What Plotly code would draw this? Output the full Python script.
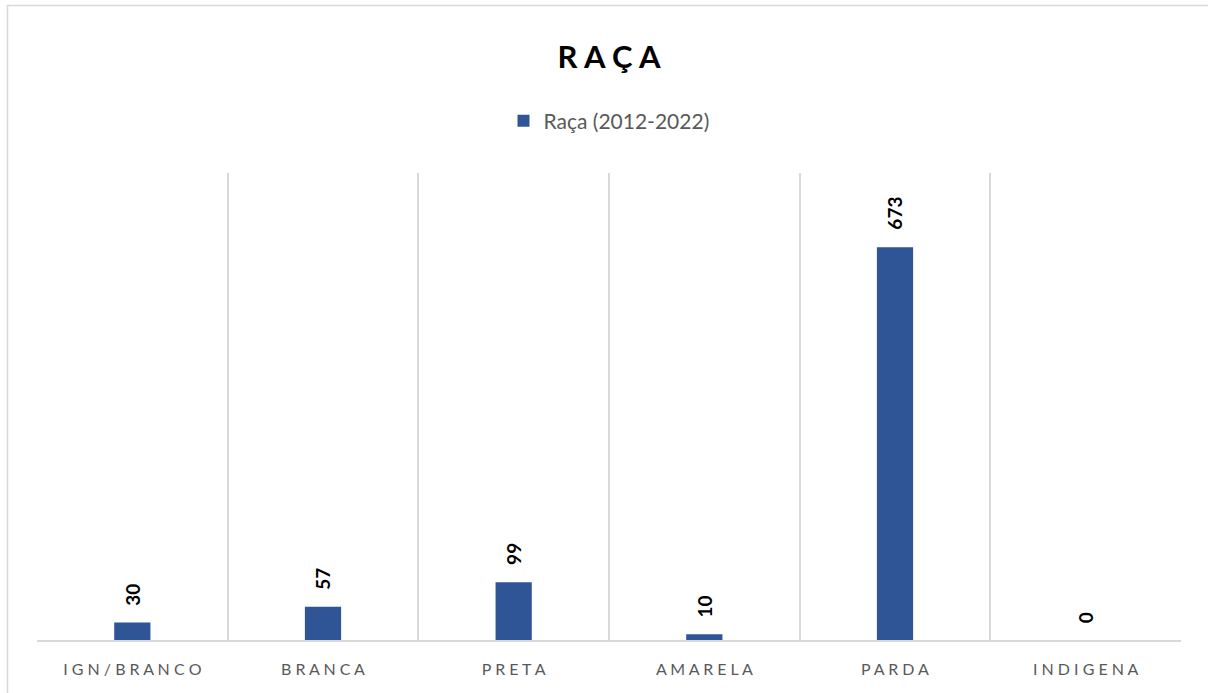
import plotly.graph_objects as go

categories = ["IGN/BRANCO", "BRANCA", "PRETA", "AMARELA", "PARDA", "INDIGENA"]
values = [30, 57, 99, 10, 673, 0]
series_name = "Raça (2012-2022)"
title_text = "RAÇA"

def spaced(s):
    return " ".join(list(s))

tick_text = [spaced(c) for c in categories]

W, H = 1208, 693
L, R, T, B = 37, 1181, 173, 640

fig = go.Figure()
fig.add_trace(go.Bar(
    x=categories,
    y=values,
    name=series_name,
    marker=dict(color="#2F5597", line=dict(width=0)),
    width=0.19,
    hoverinfo="skip",
))

for c, v in zip(categories, values):
    fig.add_annotation(
        x=c, y=v, xref="x", yref="y",
        text="<b>" + str(v) + "</b>",
        showarrow=False,
        textangle=-90,
        xanchor="center", yanchor="bottom",
        yshift=15,
        font=dict(family="Lato", size=19, color="#000000"),
    )

def px_to_paper_x(px):
    return (px - L) / (R - L)

def px_to_paper_y(py):
    return (B - py) / (B - T)

fig.update_layout(
    width=W, height=H,
    margin=dict(l=L, r=W - R, t=T, b=H - B, pad=0),
    paper_bgcolor="white",
    plot_bgcolor="white",
    font=dict(family="Lato", color="#595959"),
    title=dict(
        text="<b>" + spaced(title_text) + "</b>",
        x=0.5, xanchor="center", xref="paper",
        y=1 - 57 / H, yanchor="middle", yref="container",
        font=dict(family="Lato", size=31, color="#000000", weight=900),
    ),
    showlegend=True,
    legend=dict(
        orientation="h",
        x=0.5, xanchor="center",
        y=px_to_paper_y(121), yanchor="middle",
        font=dict(family="Lato", size=21, color="#595959"),
        itemsizing="constant",
        itemwidth=30,
    ),
    xaxis=dict(
        type="category",
        tickmode="array",
        tickvals=categories,
        ticktext=tick_text,
        tickson="boundaries",
        showgrid=True,
        gridcolor="#D9D9D9",
        gridwidth=1.8,
        showline=True,
        linecolor="#D9D9D9",
        linewidth=2,
        ticks="",
        ticklabelstandoff=14,
        tickfont=dict(family="Lato", size=16, color="#595959"),
        range=[-0.5, 5.5],
        fixedrange=True,
    ),
    yaxis=dict(
        range=[0, 800],
        showgrid=False,
        showticklabels=False,
        zeroline=False,
        showline=False,
        ticks="",
        fixedrange=True,
    ),
    shapes=[
        dict(
            type="rect", xref="paper", yref="paper",
            x0=px_to_paper_x(7.5), x1=px_to_paper_x(1230),
            y0=px_to_paper_y(720), y1=px_to_paper_y(5.5),
            line=dict(color="#D9D9D9", width=1.5),
            fillcolor="rgba(0,0,0,0)",
            layer="below",
        )
    ],
)

fig.write_html(
    "out.html",
    config={"displayModeBar": False},
    post_script="document.body.style.margin='0';document.body.style.padding='0';",
)
